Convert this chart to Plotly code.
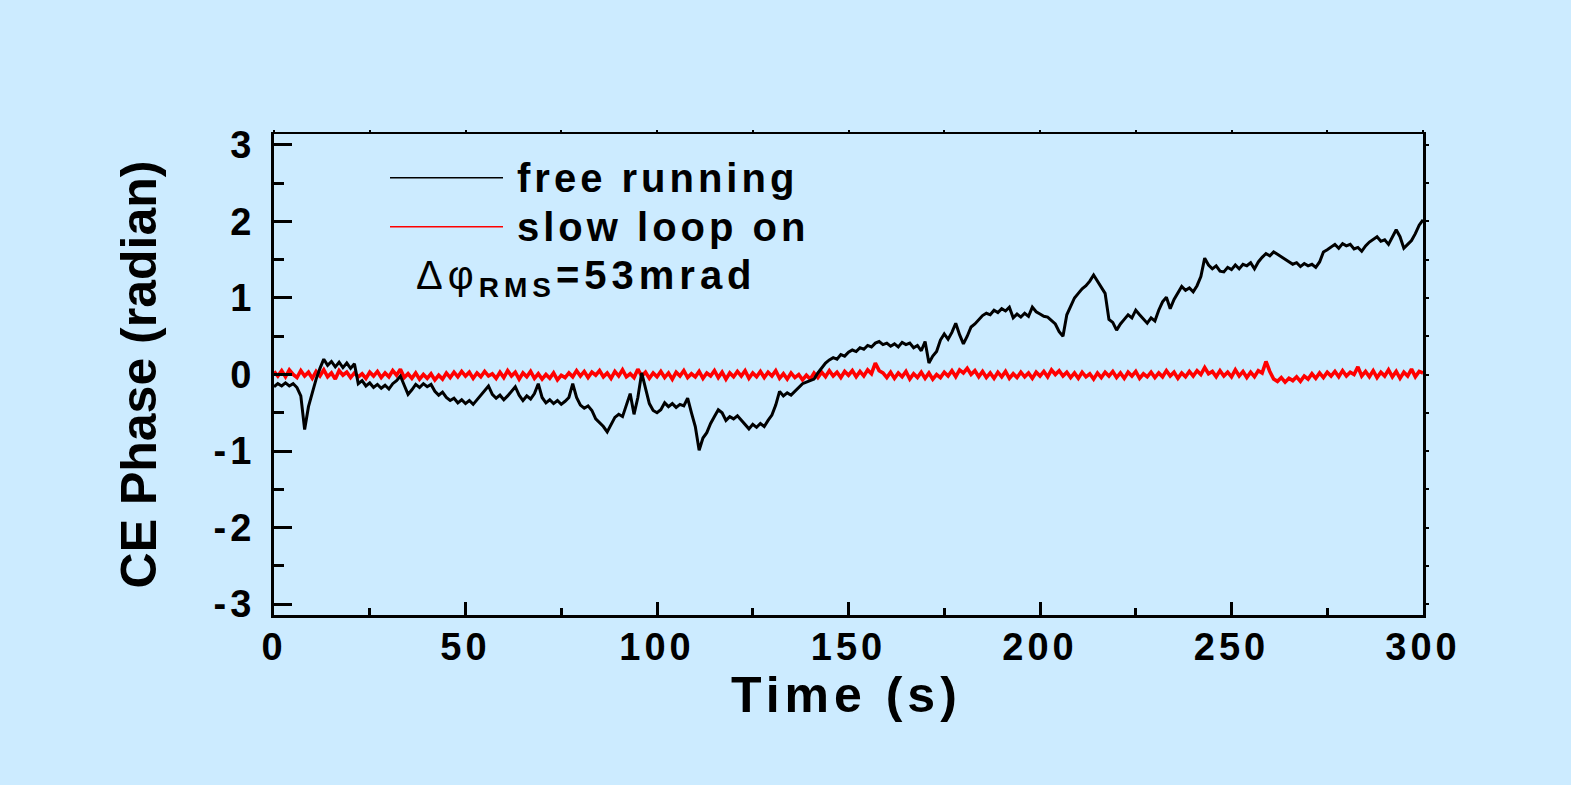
import plotly.graph_objects as go

# Time axis (s), one sample per second
time_s = list(range(0, 301))

# CE phase, free-running oscillator (rad)
free_running = [
    -0.16, -0.12, -0.15, -0.11, -0.15, -0.12, -0.17, -0.28, -0.72, -0.42,
    -0.24, -0.06, 0.08, 0.20, 0.12, 0.17, 0.10, 0.16, 0.09, 0.15,
    0.08, 0.14, -0.12, -0.08, -0.15, -0.11, -0.17, -0.13, -0.18, -0.14,
    -0.19, -0.12, -0.08, -0.02, -0.14, -0.26, -0.20, -0.13, -0.17, -0.12,
    -0.16, -0.13, -0.22, -0.27, -0.23, -0.30, -0.34, -0.31, -0.37, -0.33,
    -0.38, -0.34, -0.39, -0.33, -0.27, -0.20, -0.15, -0.26, -0.31, -0.27,
    -0.33, -0.28, -0.22, -0.16, -0.27, -0.34, -0.28, -0.32, -0.25, -0.12,
    -0.30, -0.37, -0.33, -0.38, -0.34, -0.39, -0.35, -0.30, -0.12, -0.30,
    -0.40, -0.44, -0.41, -0.47, -0.58, -0.63, -0.68, -0.75, -0.66, -0.56,
    -0.52, -0.55, -0.40, -0.25, -0.52, -0.30, 0.02, -0.20, -0.38, -0.47,
    -0.50, -0.46, -0.37, -0.42, -0.38, -0.43, -0.39, -0.41, -0.31, -0.50,
    -0.68, -0.99, -0.83, -0.76, -0.64, -0.55, -0.46, -0.50, -0.60, -0.55,
    -0.58, -0.54, -0.60, -0.66, -0.71, -0.65, -0.69, -0.64, -0.68, -0.60,
    -0.53, -0.40, -0.22, -0.28, -0.24, -0.27, -0.22, -0.16, -0.12, -0.10,
    -0.08, -0.06, 0.02, 0.09, 0.15, 0.19, 0.22, 0.20, 0.26, 0.24,
    0.29, 0.32, 0.30, 0.35, 0.33, 0.38, 0.36, 0.41, 0.43, 0.39,
    0.41, 0.37, 0.40, 0.36, 0.42, 0.39, 0.41, 0.35, 0.38, 0.31,
    0.43, 0.15, 0.24, 0.30, 0.45, 0.53, 0.46, 0.55, 0.67, 0.52,
    0.40, 0.50, 0.62, 0.66, 0.72, 0.77, 0.80, 0.78, 0.84, 0.81,
    0.86, 0.83, 0.88, 0.74, 0.79, 0.75, 0.80, 0.76, 0.88, 0.82,
    0.79, 0.76, 0.75, 0.70, 0.66, 0.56, 0.50, 0.78, 0.88, 1.00,
    1.06, 1.12, 1.16, 1.22, 1.30, 1.22, 1.15, 1.06, 0.72, 0.68,
    0.58, 0.66, 0.72, 0.78, 0.74, 0.84, 0.78, 0.73, 0.67, 0.74,
    0.70, 0.84, 0.95, 1.01, 0.86, 0.98, 1.07, 1.15, 1.10, 1.13,
    1.08, 1.16, 1.28, 1.52, 1.43, 1.38, 1.42, 1.35, 1.34, 1.40,
    1.37, 1.43, 1.38, 1.44, 1.42, 1.46, 1.38, 1.47, 1.53, 1.58,
    1.55, 1.60, 1.57, 1.54, 1.50, 1.47, 1.44, 1.46, 1.41, 1.45,
    1.42, 1.44, 1.40, 1.47, 1.60, 1.63, 1.67, 1.70, 1.65, 1.71,
    1.68, 1.70, 1.64, 1.66, 1.61, 1.68, 1.73, 1.76, 1.80, 1.74,
    1.76, 1.70, 1.79, 1.89, 1.80, 1.65, 1.70, 1.75, 1.84, 1.95,
    2.02,
]

# CE phase with the slow feedback loop closed (rad)
slow_loop_on = [
    0.04, -0.02, 0.05, -0.03, 0.06, 0.00, -0.04, 0.05, -0.02, 0.03,
    -0.05, 0.04, -0.02, 0.06, -0.03, 0.02, -0.06, 0.05, -0.01, 0.03,
    -0.04, 0.02, -0.03, 0.01, -0.05, 0.03, -0.02, 0.04, -0.04, 0.02,
    -0.03, 0.05, -0.01, 0.07, -0.04, 0.01, -0.05, 0.02, -0.06, 0.00,
    -0.05, 0.01, -0.07, -0.01, -0.06, 0.02, -0.04, 0.03, -0.03, 0.04,
    -0.02, 0.03, -0.05, 0.02, -0.03, 0.04, -0.02, 0.01, -0.05, 0.03,
    -0.04, 0.05, -0.02, 0.03, -0.06, 0.02, -0.03, 0.04, -0.05, 0.01,
    -0.06, 0.00, -0.05, 0.02, -0.07, -0.01, -0.04, 0.02, -0.03, 0.05,
    -0.02, 0.04, -0.04, 0.03, -0.01, 0.05, -0.03, 0.02, -0.05, 0.04,
    -0.02, 0.06, -0.03, 0.01, -0.04, 0.07, -0.02, 0.03, -0.05, 0.02,
    -0.03, 0.04, -0.04, 0.02, -0.06, 0.03, -0.02, 0.05, -0.04, 0.01,
    -0.03, 0.04, -0.05, 0.02, -0.02, 0.05, -0.04, 0.03, -0.06, 0.02,
    -0.03, 0.04, -0.02, 0.05, -0.05, 0.02, -0.03, 0.04, -0.04, 0.03,
    -0.02, 0.05, -0.05, 0.01, -0.06, 0.02, -0.04, 0.00, -0.07, -0.01,
    -0.06, 0.02, -0.04, 0.03, -0.03, 0.05, -0.02, 0.03, -0.04, 0.04,
    -0.01, 0.05, -0.03, 0.04, -0.02, 0.06, 0.01, 0.15, 0.05, 0.02,
    -0.04, 0.03, -0.05, 0.02, -0.03, 0.04, -0.06, 0.01, -0.04, 0.03,
    -0.05, 0.02, -0.06, 0.00, -0.04, 0.03, -0.02, 0.05, -0.03, 0.06,
    0.02, 0.08, 0.00, 0.05, -0.03, 0.04, -0.04, 0.02, -0.05, 0.03,
    -0.03, 0.04, -0.05, 0.01, -0.04, 0.03, -0.03, 0.02, -0.05, 0.03,
    -0.02, 0.04, -0.03, 0.06, 0.00, 0.05, -0.02, 0.03, -0.04, 0.02,
    -0.05, 0.03, -0.03, 0.01, -0.06, 0.02, -0.04, 0.03, -0.02, 0.04,
    -0.04, 0.02, -0.05, 0.03, -0.02, 0.04, -0.05, 0.01, -0.03, 0.03,
    -0.04, 0.02, -0.03, 0.05, -0.02, 0.03, -0.05, 0.02, -0.03, 0.04,
    -0.02, 0.05, 0.00, 0.09, 0.01, 0.04, -0.03, 0.05, -0.02, 0.03,
    -0.03, 0.06, -0.02, 0.04, -0.04, 0.03, -0.03, 0.05, 0.02, 0.17,
    0.04, -0.06, -0.09, -0.04, -0.10, -0.05, -0.08, -0.03, -0.09, -0.02,
    -0.06, 0.01, -0.05, 0.02, -0.04, 0.03, -0.02, 0.04, -0.03, 0.05,
    -0.02, 0.03, 0.00, 0.10, -0.02, 0.04, -0.03, 0.05, -0.04, 0.03,
    -0.02, 0.06, -0.03, 0.04, -0.05, 0.03, -0.02, 0.07, -0.03, 0.04,
    0.02,
]

x_ticks = [0, 50, 100, 150, 200, 250, 300]
y_ticks = [-3, -2, -1, 0, 1, 2, 3]

BG = "#CCEBFF"
FONT = "Liberation Sans, Arial, sans-serif"
W, H = 1571, 785
L, R, T, B = 274, 148, 134, 170
PW, PH = W - L - R, H - T - B


def spaced(text, px):
    return f'<span style="letter-spacing:{px}px">{text}</span>'


def px_x(px):
    return (px - L) / PW


def px_y(py):
    return (T + PH - py) / PH


fig = go.Figure()

fig.add_trace(go.Scatter(
    x=time_s, y=slow_loop_on, mode="lines", name="slow loop on",
    line=dict(color="#FF0000", width=3.6), showlegend=False,
))
fig.add_trace(go.Scatter(
    x=time_s, y=free_running, mode="lines", name="free running",
    line=dict(color="#000000", width=3.0), showlegend=False,
))
# carrier for the top/right frame axes
fig.add_trace(go.Scatter(x=[], y=[], xaxis="x2", yaxis="y2",
                         showlegend=False, hoverinfo="skip"))

tick_font = dict(family=FONT, size=38, color="black", weight="bold")

fig.update_layout(
    width=W, height=H,
    margin=dict(l=L, r=R, t=T, b=B, autoexpand=False),
    paper_bgcolor=BG, plot_bgcolor=BG,
    xaxis=dict(
        range=[0, 300], showgrid=False, zeroline=False,
        showline=True, linecolor="black", linewidth=3,
        ticks="inside", ticklen=13, tickwidth=2.5, tickcolor="black",
        tickvals=x_ticks, ticktext=[spaced(str(v), 4) for v in x_ticks],
        tickfont=tick_font, ticklabelstandoff=-4,
        minor=dict(ticks="inside", ticklen=7, tickwidth=2.5,
                   tickcolor="black", tick0=0, dtick=25, showgrid=False),
    ),
    yaxis=dict(
        range=[-3.1416, 3.1416], showgrid=False, zeroline=False,
        showline=True, linecolor="black", linewidth=3,
        ticks="inside", ticklen=18, tickwidth=2.5, tickcolor="black",
        tickvals=y_ticks, ticktext=[spaced(str(v), 4) for v in y_ticks],
        tickfont=tick_font, ticklabelstandoff=8,
        minor=dict(ticks="inside", ticklen=10, tickwidth=2.5,
                   tickcolor="black", tick0=0, dtick=0.5, showgrid=False),
        title=dict(text="CE Phase (radian)", standoff=42,
                   font=dict(family=FONT, size=50, color="black", weight="bold")),
    ),
    xaxis2=dict(
        overlaying="x", side="top", range=[0, 300], showgrid=False,
        zeroline=False, showline=True, linecolor="black", linewidth=2,
        ticks="outside", ticklen=2, tickwidth=1.5, tickcolor="black",
        tickvals=list(range(0, 301, 25)), showticklabels=False,
    ),
    yaxis2=dict(
        overlaying="y", side="right", range=[-3.1416, 3.1416], showgrid=False,
        zeroline=False, showline=True, linecolor="black", linewidth=3,
        ticks="outside", ticklen=3, tickwidth=1.5, tickcolor="black",
        dtick=0.5, tick0=0, showticklabels=False,
    ),
)

# x-axis title
fig.add_annotation(
    xref="paper", yref="paper", x=px_x(846), y=px_y(665),
    xanchor="center", yanchor="top", showarrow=False,
    text=spaced("Time (s)", 5),
    font=dict(family=FONT, size=50, color="black", weight="bold"),
)

# legend samples
legend_rows = [("free running", "#000000", 177.7), ("slow loop on", "#FF0000", 226.7)]
for label, color, ypx in legend_rows:
    fig.add_shape(type="line", xref="paper", yref="paper",
                  x0=px_x(390), x1=px_x(503), y0=px_y(ypx), y1=px_y(ypx),
                  line=dict(color=color, width=1.5))
    fig.add_annotation(xref="paper", yref="paper", x=px_x(515), y=px_y(ypx),
                       xanchor="left", yanchor="middle", showarrow=False,
                       text=spaced(label, 4),
                       font=dict(family=FONT, size=40, color="black", weight="bold"))

fig.add_annotation(
    xref="paper", yref="paper", x=px_x(414), y=px_y(251),
    xanchor="left", yanchor="top", showarrow=False,
    text=spaced('<span style="font-weight:normal">Δφ</span><sub>RMS</sub>=53mrad', 5),
    font=dict(family=FONT, size=40, color="black", weight="bold"),
)

fig.write_html("out.html")
